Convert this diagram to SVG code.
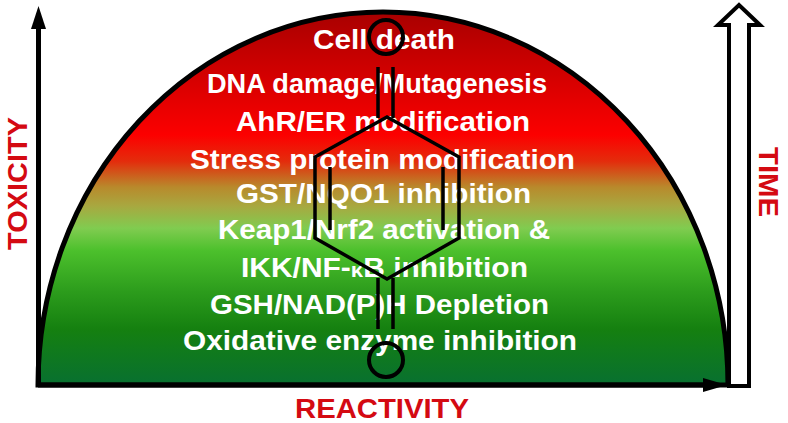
<svg xmlns="http://www.w3.org/2000/svg" width="788" height="423" viewBox="0 0 788 423">
<style>
.t{font-family:"Liberation Sans",Arial,sans-serif;font-weight:700;fill:#fff;font-size:27px}
.r{font-family:"Liberation Sans",Arial,sans-serif;font-weight:700;fill:#d40a12;font-size:27.500px}
.m{fill:none;stroke:#000;stroke-width:3.5}
.c{fill:none;stroke:#000;stroke-width:4}
</style>
<defs>
<linearGradient id="dome" gradientUnits="userSpaceOnUse" x1="0" y1="12" x2="0" y2="385">
<stop offset="0" stop-color="#a80000"/>
<stop offset="0.33" stop-color="#fc0000"/>
<stop offset="0.4" stop-color="#e42c0c"/>
<stop offset="0.47" stop-color="#b88a2c"/>
<stop offset="0.52" stop-color="#a8a840"/>
<stop offset="0.58" stop-color="#80cc50"/>
<stop offset="0.64" stop-color="#4cc02c"/>
<stop offset="0.75" stop-color="#2c9c1c"/>
<stop offset="0.85" stop-color="#158010"/>
<stop offset="1" stop-color="#087030"/>
</linearGradient>
</defs>
<g id="dome-node">
<path d="M38 385A345 373 0 0 1 728 385Z" fill="url(#dome)" stroke="#000" stroke-width="5"/>
</g>
<g id="labels">
<text class="t" x="313" y="49" textLength="142" lengthAdjust="spacingAndGlyphs">Cell death</text>
<text class="t" x="207" y="93" textLength="340" lengthAdjust="spacingAndGlyphs">DNA damage/Mutagenesis</text>
<text class="t" x="236" y="131" textLength="294" lengthAdjust="spacingAndGlyphs">AhR/ER modification</text>
<text class="t" x="190" y="169" textLength="385" lengthAdjust="spacingAndGlyphs">Stress protein modification</text>
<text class="t" x="236" y="203" textLength="295" lengthAdjust="spacingAndGlyphs">GST/NQO1 inhibition</text>
<text class="t" x="218" y="239" textLength="332" lengthAdjust="spacingAndGlyphs">Keap1/Nrf2 activation &amp;</text>
<text class="t" x="241" y="277" textLength="287" lengthAdjust="spacingAndGlyphs">IKK/NF-<tspan font-size="20">κ</tspan>B inhibition</text>
<text class="t" x="210" y="314" textLength="339" lengthAdjust="spacingAndGlyphs">GSH/NAD(P)H Depletion</text>
<text class="t" x="183" y="350" textLength="394" lengthAdjust="spacingAndGlyphs">Oxidative enzyme inhibition</text>
</g>
<g id="molecule">
<circle class="c" cx="386" cy="37" r="17"/>
<circle class="c" cx="386" cy="360" r="17"/>
<path class="m" d="M378 67V118M393 67V118M378 329V278M393 329V278"/>
<path class="m" d="M387 117L459 157V238L387 279L315 238V157Z"/>
<path class="m" d="M330 167V230M443 167V230"/>
</g>
<g id="connectors">
<path d="M38.500 385V28" stroke="#000" stroke-width="5" fill="none"/>
<path d="M38.500 6L46 29H31Z" fill="#000"/>
<path d="M38 385H705" stroke="#000" stroke-width="5" fill="none"/>
<path d="M727 385L703 378V392Z" fill="#000"/>
<path d="M729 386V25H718L739 5L760 25H749V386Z" fill="#fff" stroke="#000" stroke-width="4"/>
</g>
<g id="axis-labels">
<text class="r" transform="translate(27 250) rotate(-90)" textLength="133" lengthAdjust="spacingAndGlyphs">TOXICITY</text>
<text class="r" x="295" y="418" textLength="174" lengthAdjust="spacingAndGlyphs">REACTIVITY</text>
<text class="r" transform="translate(759 147) rotate(90)" textLength="70" lengthAdjust="spacingAndGlyphs">TIME</text>
</g>
</svg>
